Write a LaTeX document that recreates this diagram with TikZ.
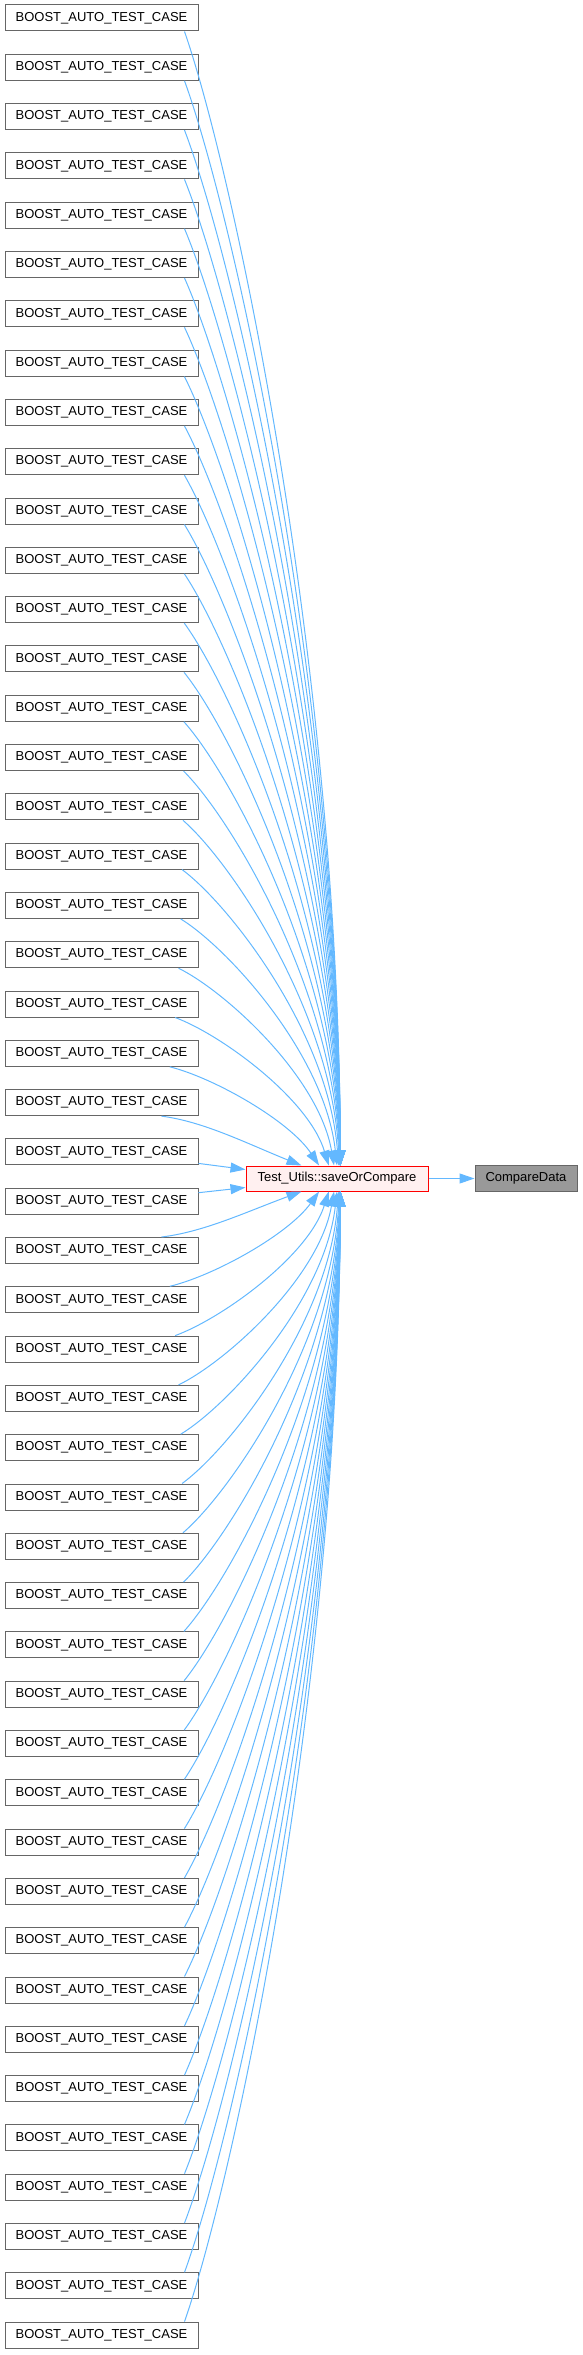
\documentclass[tikz,border=0pt]{standalone}
\usepackage{fontspec}
\setmainfont{Liberation Sans}
\usetikzlibrary{arrows.meta,calc}
\definecolor{edgeblue}{HTML}{63B8FF}
\definecolor{boxgray}{HTML}{666666}
\definecolor{tufill}{HTML}{FFF0F0}
\definecolor{cdfill}{HTML}{999999}
\begin{document}
\begin{tikzpicture}[x=1pt,y=-1pt,
  leaf/.style={draw=boxgray, fill=white, line width=1pt, minimum width=193pt, minimum height=26pt, inner sep=0pt, font=\fontsize{13}{15}\selectfont},
  tubox/.style={draw=red, fill=tufill, line width=1pt, minimum width=182pt, minimum height=25pt, inner sep=0pt, font=\fontsize{13}{15}\selectfont},
  cdbox/.style={draw=boxgray, fill=cdfill, line width=1pt, minimum width=102pt, minimum height=26pt, inner sep=0pt, font=\fontsize{13}{15}\selectfont},
  edge/.style={draw=edgeblue, line width=1pt, -{Triangle[length=15pt,width=10pt]}, edgeblue}]
\useasboundingbox (0,0) rectangle (582,2355);
\foreach \k in {0,...,47} {
  \node[leaf] (b\k) at (101.5, {18+49.3*\k}) {BOOST\_AUTO\_TEST\_CASE};
}
\node[tubox] (tu) at (337, 1178.5) {Test\_Utils::saveOrCompare};
\node[cdbox] (cd) at (526, 1178.5) {CompareData};
\draw[edge] ($(b23.south east)+(0,-2)$) -- ($(tu.west)+(0,-9)$);
\draw[edge] ($(b24.north east)+(0,5)$) -- ($(tu.west)+(0,9)$);
\foreach \d in {1,...,23} {
  \pgfmathtruncatemacro\ku{23-\d}
  \pgfmathtruncatemacro\kl{24+\d}
  \pgfmathsetmacro\xs{185-23*exp(-0.45*(\d-1))}
  \pgfmathsetmacro\xt{341-39*exp(-0.6*(\d-1))}
  \pgfmathsetmacro\dx{\xt-\xs}
  \pgfmathsetmacro\ysu{31+49.3*\ku}
  \pgfmathsetmacro\dyu{1166-\ysu}
  \pgfmathsetmacro\rru{min(1,50/\dyu)}
  \draw[edge] ($(b\ku.south west)+(\xs-5,0)$) .. controls (\xs+0.3*\dx, \ysu+0.12*\dyu) and (\xt-0.4*\dx*\rru, 1166-0.45*\dyu) .. ($(tu.north west)+(\xt-246,0)$);
  \pgfmathsetmacro\ysl{5+49.3*\kl}
  \pgfmathsetmacro\dyl{\ysl-1191}
  \pgfmathsetmacro\rrl{min(1,50/\dyl)}
  \draw[edge] ($(b\kl.north west)+(\xs-5,0)$) .. controls (\xs+0.3*\dx, \ysl-0.12*\dyl) and (\xt-0.4*\dx*\rrl, 1191+0.45*\dyl) .. ($(tu.south west)+(\xt-246,0)$);
}
\draw[edge] (tu) -- (cd);
\end{tikzpicture}
\end{document}
